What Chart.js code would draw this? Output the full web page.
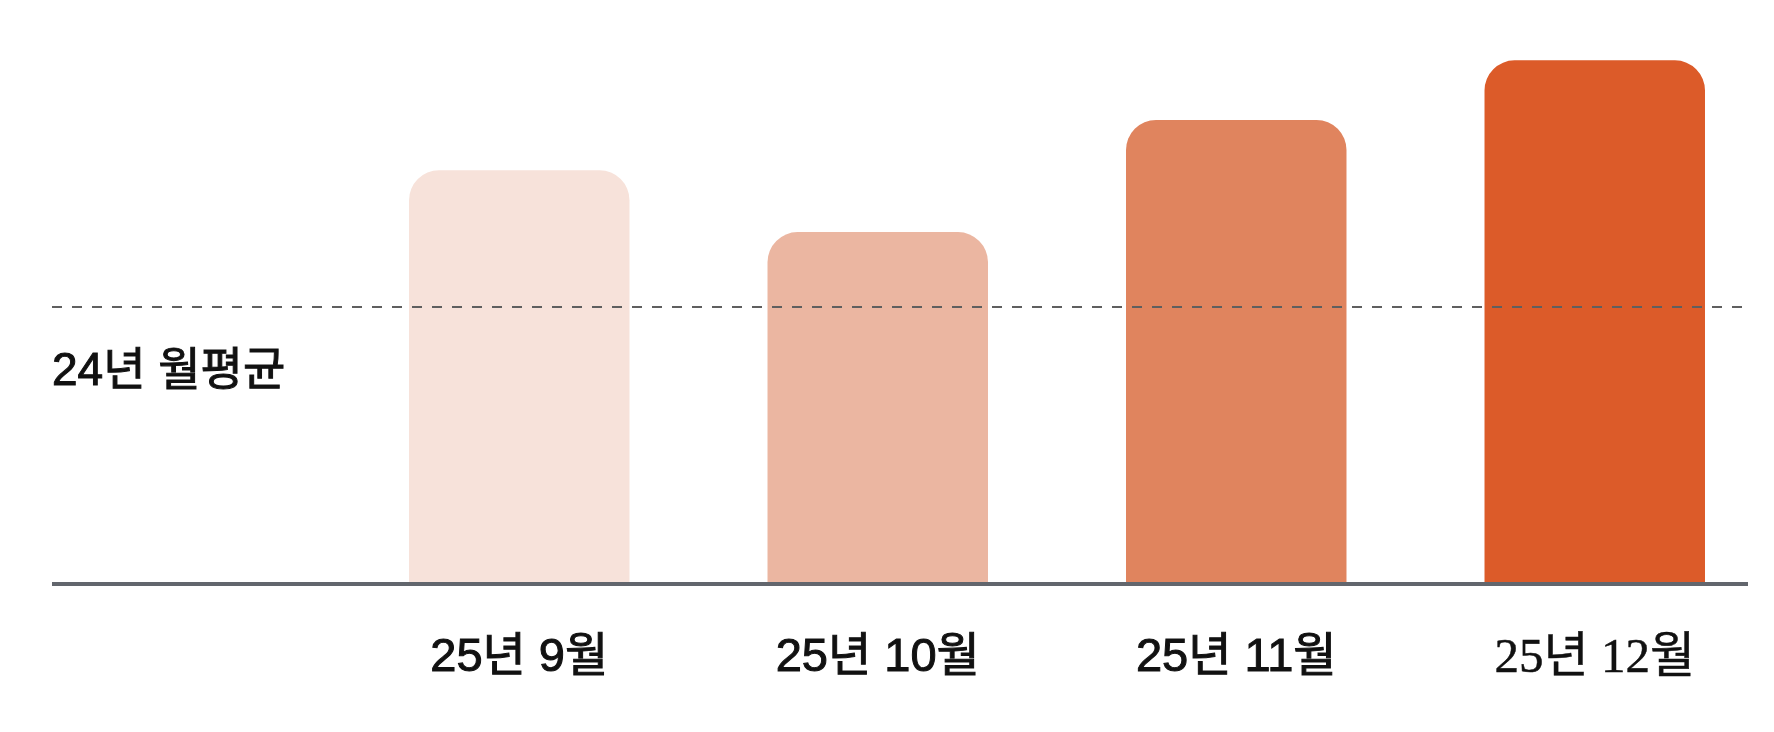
<!DOCTYPE html>
<html>
<head>
<meta charset="utf-8">
<script src="https://cdn.jsdelivr.net/npm/chart.js@4/dist/chart.umd.min.js"></script>
<style>
  html, body { margin: 0; padding: 0; background: #fff; }
  #wrap { width: 1774px; height: 732px; }
</style>
</head>
<body>
<div id="wrap"><canvas id="chart" width="1774" height="732"></canvas></div>
<script>
// Monthly values (relative units)
const months = ['25년 9월', '25년 10월', '25년 11월', '25년 12월'];
const values = [79, 67.2, 88.6, 100];
const barColors = ['#f7e2da', '#ebb6a1', '#e0845e', '#dc5b29'];
// 24년 monthly average reference line
const avgLabel = '24년 월평균';
const avgValue = 52.9;

const sansFont = '"Liberation Sans", "Noto Sans CJK KR", sans-serif';
const serifFont = '"Liberation Serif", "Noto Sans CJK KR", serif';

// Draws the solid baseline, the dashed average line and its label.
const refLines = {
    id: 'refLines',
    afterDatasetsDraw(chart) {
        const ctx = chart.ctx;
        const y = chart.scales.y;
        const left = 52;
        const right = chart.width - 26;

        const avgY = y.getPixelForValue(avgValue);
        ctx.save();
        ctx.strokeStyle = '#5f5f5f';
        ctx.lineWidth = 2;
        ctx.setLineDash([10, 10]);
        ctx.beginPath();
        ctx.moveTo(left, avgY);
        ctx.lineTo(right, avgY);
        ctx.stroke();

        // label, slightly thickened to match the medium weight
        ctx.setLineDash([]);
        ctx.fillStyle = '#111111';
        ctx.strokeStyle = '#111111';
        ctx.lineWidth = 1;
        ctx.font = '46px ' + sansFont;
        ctx.textAlign = 'left';
        ctx.textBaseline = 'middle';
        ctx.fillText(avgLabel, left, avgY + 65);
        ctx.strokeText(avgLabel, left, avgY + 65);

        const baseY = y.getPixelForValue(0);
        ctx.strokeStyle = '#62666d';
        ctx.lineWidth = 4;
        ctx.beginPath();
        ctx.moveTo(left, baseY);
        ctx.lineTo(right, baseY);
        ctx.stroke();
        ctx.restore();
    }
};

new Chart(document.getElementById('chart'), {
    type: 'bar',
    data: {
        labels: months,
        datasets: [{
            data: values,
            backgroundColor: barColors,
            borderRadius: 30,
            borderSkipped: 'bottom',
            categoryPercentage: 1,
            barPercentage: 0.615
        }]
    },
    options: {
        responsive: false,
        animation: false,
        layout: { padding: { left: 340, right: 0, top: 8, bottom: -3 } },
        plugins: { legend: { display: false }, tooltip: { enabled: false } },
        scales: {
            y: { display: false, min: 0, max: 110 },
            x: {
                grid: { display: false, drawTicks: false },
                border: { display: false },
                ticks: {
                    padding: 51,
                    color: '#111111',
                    textStrokeColor: '#111111',
                    textStrokeWidth: (c) => c.index === 3 ? 0.5 : 1,
                    font: (c) => ({
                        family: c.index === 3 ? serifFont : sansFont,
                        size: c.index === 3 ? 49 : 47,
                        lineHeight: 1
                    })
                }
            }
        }
    },
    plugins: [refLines]
});
</script>
</body>
</html>
